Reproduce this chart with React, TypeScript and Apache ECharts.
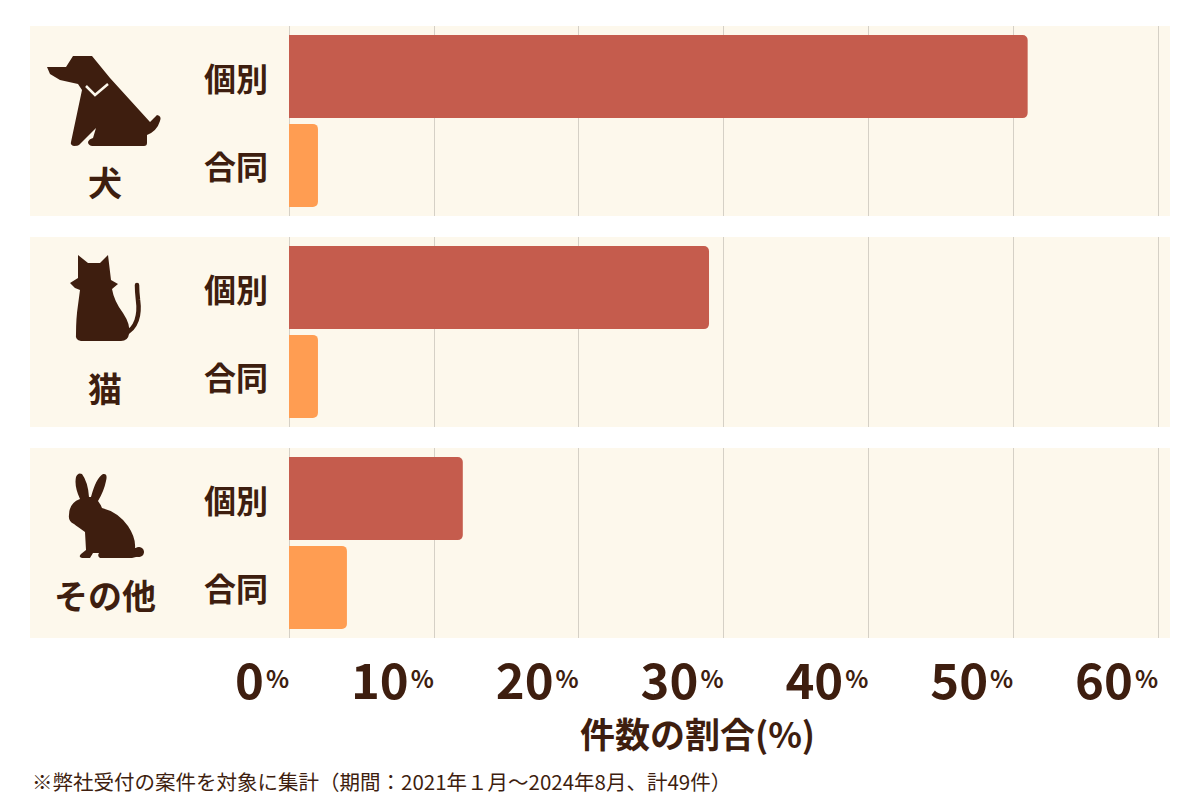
import React, { useEffect, useRef } from "react";
import * as echarts from "echarts";

const animals = ["犬", "猫", "その他"];
const types = ["個別", "合同"];
const kobetsuPct = [51, 29, 12];
const godoPct = [2, 2, 4];
const xMin = 0;
const xMax = 60;
const xStep = 10;
const axisTitle = "件数の割合(%)";
const footnote = "※弊社受付の案件を対象に集計（期間：2021年１月～2024年8月、計49件）";

const TEXT = "#3e1e0f";
const RED = "#c55c4d";
const ORANGE = "#ff9d52";
const PANEL = "#fdf8ec";
const GRID_LINE = "#d5d0c6";
const FONT = "'Noto Sans CJK JP', 'Noto Sans', sans-serif";

// panel layout (pixels)
const panelTops = [26, 237, 448];
const panelHeight = 190;

// silhouettes, drawn in page coordinates
const dogPath =
  "M47,67 L66,67 L73,56 L92,56 L110,78 L150,122 L157,115 Q162,116 160,121 Q157,131 147,135 L147,143 Q147,146 144,146 L92,146 Q88,145 88,142 Q89,139 93,138 L96,128 L79,145 Q78,146 74,146 Q70,145 71,142 L82,90 L78,84 L60,80 L50,74 Z";
const catPath =
  "M78,255 L88,263 L100,263 L108,255 L111,280 L118,284 L112,289 Q114,301 123,313 Q131,325 129,334 Q128,341 121,341 L81,341 Q75,340 76,334 Q76,318 78,305 L80,290 L75,288 L70,283 L78,278 Z";
const catTailPath = "M124,334 C137,329 140,314 138,300 Q137,291 137,285";
const rabbitPath =
  "M69,515 Q69,503 80,499 Q74,486 76,477 Q78,472 82,474 Q88,482 89,497 L91,497 Q96,478 103,474 Q108,473 106,481 Q104,491 98,501 Q101,505 102,508 Q118,512 128,526 Q136,538 135,548 Q141,546 143,551 Q143,557 136,557 L132,558 L100,558 Q97,556 99,553 L93,553 L90,558 L82,558 Q78,557 81,554 L86,550 L85,532 Q78,527 74,524 Q68,521 69,515 Z";

echarts.graphic.registerShape("dogIcon", echarts.graphic.extendPath(dogPath, {}));
echarts.graphic.registerShape("catIcon", echarts.graphic.extendPath(catPath, {}));
echarts.graphic.registerShape("catTail", echarts.graphic.extendPath(catTailPath, {}));
echarts.graphic.registerShape("rabbitIcon", echarts.graphic.extendPath(rabbitPath, {}));

const animalLabelY = [181, 387, 594];

const App: React.FC = () => {
  const chartRef = useRef<HTMLDivElement | null>(null);

  useEffect(() => {
    if (!chartRef.current) return;
    const chart = echarts.init(chartRef.current, undefined, { renderer: "svg" });

    const values = [kobetsuPct, godoPct];
    const colors = [RED, ORANGE];

    const series: any[] = [];
    animals.forEach((_, i) => {
      types.forEach((t, k) => {
        series.push({
          type: "bar",
          name: t,
          xAxisIndex: i,
          yAxisIndex: i,
          data: [values[k][i]],
          barWidth: 83,
          barGap: "7%",
          itemStyle: { color: colors[k], borderRadius: [0, 5, 5, 0] },
          label: {
            show: true,
            formatter: "{a}",
            position: [-21, "50%"],
            align: "right",
            verticalAlign: "middle",
            fontSize: 32,
            fontWeight: "bold",
            fontFamily: FONT,
            color: TEXT,
          },
        });
      });
    });

    const graphic: any[] = [
      ...panelTops.map(top => ({
        type: "rect",
        z: -10,
        shape: { x: 30, y: top, width: 1140, height: panelHeight },
        style: { fill: PANEL },
      })),
      { type: "dogIcon", x: 0, y: 0, z: 10, style: { fill: TEXT } },
      {
        type: "polyline",
        z: 11,
        shape: { points: [[86, 86], [95, 95], [108, 84]] },
        style: { stroke: PANEL, lineWidth: 2.5, fill: null },
      },
      { type: "catIcon", x: 0, y: 0, z: 10, style: { fill: TEXT } },
      {
        type: "catTail",
        x: 0,
        y: 0,
        z: 10,
        style: { fill: null, stroke: TEXT, lineWidth: 4.5, lineCap: "round" },
      },
      { type: "rabbitIcon", x: 0, y: 0, z: 10, style: { fill: TEXT } },
      { type: "circle", z: 10, shape: { cx: 139, cy: 552, r: 5 }, style: { fill: TEXT } },
      ...animals.map((a, i) => ({
        type: "text",
        z: 10,
        x: 105,
        y: animalLabelY[i],
        style: {
          text: a,
          fill: TEXT,
          font: `bold 34px ${FONT}`,
          textAlign: "center",
          textVerticalAlign: "middle",
        },
      })),
      {
        type: "text",
        x: 32,
        y: 781,
        style: {
          text: footnote,
          fill: TEXT,
          font: `20.5px ${FONT}`,
          textAlign: "left",
          textVerticalAlign: "middle",
        },
      },
    ];

    chart.setOption({
      animation: false,
      backgroundColor: "#fff",
      grid: panelTops.map(top => ({ left: 289, right: 42, top, height: panelHeight })),
      xAxis: animals.map((_, i) => ({
        type: "value",
        gridIndex: i,
        min: xMin,
        max: xMax,
        interval: xStep,
        axisLine: { show: false },
        axisTick: { show: false },
        splitLine: { show: true, lineStyle: { color: GRID_LINE, width: 1 } },
        axisLabel:
          i === animals.length - 1
            ? {
                show: true,
                margin: 39,
                align: "right",
                verticalAlign: "middle",
                formatter: (v: number) => `{n|${v}}{p|%}`,
                rich: {
                  n: { fontSize: 49, lineHeight: 40, fontWeight: "bold", fontFamily: FONT, color: TEXT },
                  p: {
                    fontSize: 24,
                    lineHeight: 40,
                    fontWeight: "bold",
                    fontFamily: FONT,
                    color: TEXT,
                    padding: [0, 0, 0, 2],
                  },
                },
              }
            : { show: false },
        name: i === animals.length - 1 ? axisTitle : "",
        nameLocation: "middle",
        nameGap: 94,
        nameTextStyle: {
          fontSize: 35,
          lineHeight: 36,
          fontWeight: "bold",
          fontFamily: FONT,
          color: TEXT,
          verticalAlign: "middle",
          padding: [0, 52, 0, 0],
        },
      })),
      yAxis: animals.map((a, i) => ({
        type: "category",
        gridIndex: i,
        data: [a],
        inverse: true,
        show: false,
      })),
      series,
      graphic,
    });

    return () => {
      chart.dispose();
    };
  }, []);

  return (
    <div
      ref={chartRef}
      style={{ position: "absolute", left: 0, top: 0, width: 1200, height: 800 }}
    />
  );
};

export default App;
